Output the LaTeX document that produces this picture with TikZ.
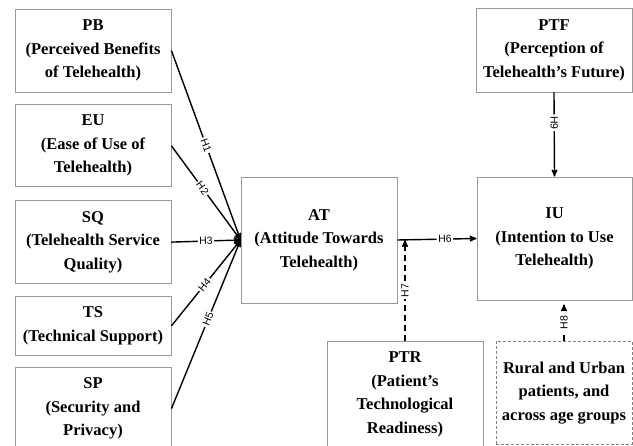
\documentclass[tikz,border=0pt]{standalone}
\usepackage{fontspec}
\setmainfont{Liberation Serif}
\setsansfont{Liberation Sans}
\usetikzlibrary{arrows}
\usetikzlibrary{positioning}

\begin{document}
\begin{tikzpicture}[x=1pt,y=-1pt,->,>=stealth',line width=1.4pt,
  main node/.style={rectangle,draw=gray!80,fill=white,line width=0.8pt,
  align=center,font=\bfseries\fontsize{16.5}{23.5}\selectfont,
  minimum width=156pt,minimum height=83pt,inner sep=2pt},
  hyp/.style={font=\sffamily\fontsize{10.5}{10.5}\selectfont,
  fill=white,inner sep=1.5pt,sloped},
  mod line/.style={dash pattern=on 6pt off 4pt}]

  \useasboundingbox (0,0) rectangle (633,446);
  \clip (0,0) rectangle (633,446);

  % left column of constructs
  \node[main node] (PB) at (93,50.5) {PB\\(Perceived Benefits\\of Telehealth)};
  \node[main node] (EU) [below=12pt of PB,minimum height=82pt] {EU\\(Ease of Use of\\Telehealth)};
  \node[main node] (SQ) [below=13pt of EU] {SQ\\(Telehealth Service\\Quality)};
  \node[main node] (TS) [below=12pt of SQ,minimum height=59pt] {TS\\(Technical Support)};
  \node[main node] (SP) [below=11pt of TS] {SP\\(Security and\\Privacy)};

  % middle and right
  \node[main node] (AT) at (319,240) [minimum height=126pt] {AT\\(Attitude Towards\\Telehealth)};
  \node[main node] (IU) at (554.5,238.5) [minimum width=155pt,minimum height=123pt] {IU\\(Intention to Use\\Telehealth)};
  \node[main node] (PTF) at (554,50) [minimum height=84pt] {PTF\\(Perception of\\Telehealth's Future)};
  \node[main node] (PTR) at (405,341) [anchor=north,minimum height=106pt] {PTR\\(Patient's\\Technological\\Readiness)};
  \node[main node] (RU) at (564,341) [anchor=north,minimum width=136pt,minimum height=103pt,
    draw=gray,densely dashed,line width=0.6pt] {Rural and Urban\\patients, and\\across age groups};

  \coordinate (J) at (PTR.north |- AT.east);
  \coordinate (K) at (RU.north |- IU.south);

  %H1 to H5 meet at AT
  \draw (PB.east) -- node[hyp,pos=0.5] {H1} (AT.west);
  \draw (EU.east) -- node[hyp,pos=0.45] {H2} (AT.west);
  \draw (SQ.east) -- node[hyp,pos=0.5] {H3} (AT.west);
  \draw (TS.east) -- node[hyp,pos=0.48] {H4} (AT.west);
  \draw (SP.east) -- node[hyp,pos=0.53] {H5} (AT.west);
  %AT to IU
  \draw (AT.east) -- node[hyp,pos=0.6] {H6} (IU.west);
  %moderators
  \draw[mod line] (PTR.north) -- node[hyp,pos=0.5] {H7} (J);
  \draw[mod line,shorten >=4pt] (RU.north) -- node[hyp,pos=0.45] {H8} (K);
  \draw (PTF.south) -- node[hyp,pos=0.36] {H9} (IU.north);

\end{tikzpicture}
\end{document}
